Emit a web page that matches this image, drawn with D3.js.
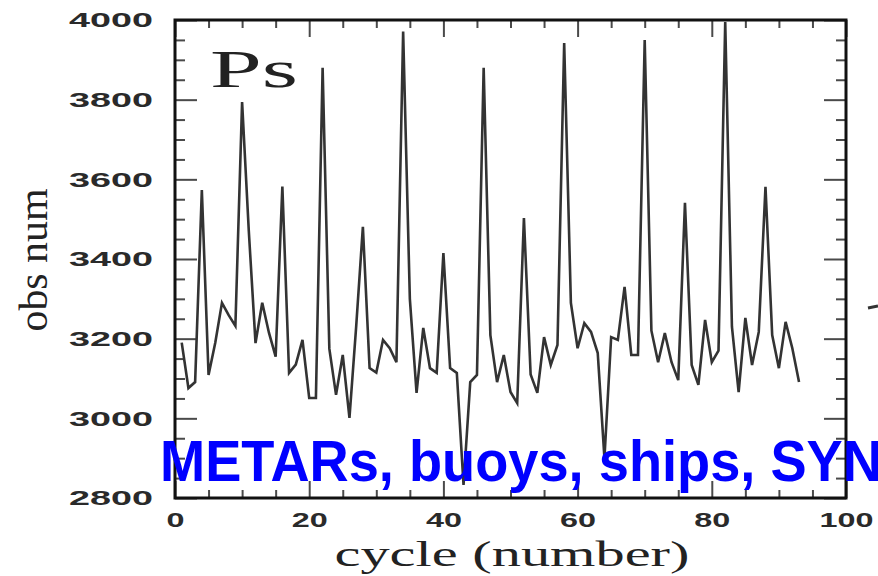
<!DOCTYPE html>
<html>
<head>
<meta charset="utf-8">
<script src="https://cdn.jsdelivr.net/npm/d3@7/dist/d3.min.js"></script>
<style>
  html, body { margin: 0; padding: 0; background: #fff; }
  svg { display: block; }
</style>
</head>
<body>
<svg id="chart" width="878" height="576"></svg>
<script>
// ---- data ----
const cycles = [1,2,3,4,5,6,7,8,9,10,11,12,13,14,15,16,17,18,19,20,
  21,22,23,24,25,26,27,28,29,30,31,32,33,34,35,36,37,38,39,40,
  41,42,43,44,45,46,47,48,49,50,51,52,53,54,55,56,57,58,59,60,
  61,62,63,64,65,66,67,68,69,70,71,72,73,74,75,76,77,78,79,80,
  81,82,83,84,85,86,87,88,89,90,91,92,93];
const obsNum = [3190,3076,3091,3573,3109,3190,3290,3259,3232,3794,
  3470,3189,3290,3215,3155,3582,3114,3135,3197,3051,
  3051,3880,3175,3059,3159,3001,3230,3481,3126,3115,
  3197,3176,3141,3971,3300,3064,3227,3126,3114,3415,
  3126,3114,2833,3091,3109,3880,3209,3091,3159,3066,
  3038,3503,3110,3064,3204,3134,3184,3942,3290,3176,
  3239,3217,3164,2900,3204,3197,3330,3159,3159,3950,
  3220,3141,3214,3141,3096,3541,3134,3084,3247,3141,
  3170,3995,3230,3066,3252,3134,3217,3581,3209,3126,
  3242,3176,3091];
const xTicks = [0,20,40,60,80,100];
const xMinorTicks = [5,10,15,25,30,35,45,50,55,65,70,75,85,90,95];
const yTicks = [2800,3000,3200,3400,3600,3800,4000];
const yMinorTicks = [2850,2900,2950,3050,3100,3150,3250,3300,3350,3450,3500,3550,3650,3700,3750,3850,3900,3950];
const panelLabel = "Ps";
const xTitle = "cycle (number)";
const yTitle = "obs num";
const overlayText = "METARs, buoys, ships, SYNOP";

// ---- drawing ----
const svg = d3.select("#chart");
const L = 175, R = 846, T = 20, B = 498;
const x = d3.scaleLinear().domain([0, 100]).range([L, R]);
const y = d3.scaleLinear().domain([2800, 4000]).range([B, T]);

const tickColor = "#4a4a4a";
function styleAxis(g) {
  g.select(".domain").remove();
  g.selectAll(".tick line").attr("stroke", tickColor).attr("stroke-width", 2);
}

// minor ticks
svg.append("g").attr("transform", `translate(${L},0)`)
  .call(d3.axisLeft(y).tickValues(yMinorTicks).tickSize(-10).tickFormat(""))
  .call(styleAxis);
svg.append("g").attr("transform", `translate(${R},0)`)
  .call(d3.axisRight(y).tickValues(yMinorTicks).tickSize(-10).tickFormat(""))
  .call(styleAxis);
svg.append("g").attr("transform", `translate(0,${B})`)
  .call(d3.axisBottom(x).tickValues(xMinorTicks).tickSize(-8).tickFormat(""))
  .call(styleAxis);
svg.append("g").attr("transform", `translate(0,${T})`)
  .call(d3.axisTop(x).tickValues(xMinorTicks).tickSize(-8).tickFormat(""))
  .call(styleAxis);

// major ticks with labels
const yAxisG = svg.append("g").attr("transform", `translate(${L},0)`)
  .call(d3.axisLeft(y).tickValues(yTicks).tickSize(-22).tickPadding(22).tickFormat(d => d))
  .call(styleAxis);
yAxisG.selectAll("text")
  .attr("font-family", "'Liberation Sans', Arial, sans-serif")
  .attr("font-weight", "bold")
  .attr("font-size", 21)
  .attr("fill", "#2a2a2a")
  .attr("textLength", 84)
  .attr("lengthAdjust", "spacingAndGlyphs");

svg.append("g").attr("transform", `translate(${R},0)`)
  .call(d3.axisRight(y).tickValues(yTicks).tickSize(-22).tickFormat(""))
  .call(styleAxis);

const xAxisG = svg.append("g").attr("transform", `translate(0,${B})`)
  .call(d3.axisBottom(x).tickValues(xTicks).tickSize(-17).tickPadding(14).tickFormat(d => d))
  .call(styleAxis);
xAxisG.selectAll("text")
  .attr("font-family", "'Liberation Sans', Arial, sans-serif")
  .attr("font-weight", "bold")
  .attr("font-size", 21)
  .attr("fill", "#2a2a2a")
  .attr("textLength", d => String(d).length * 18)
  .attr("lengthAdjust", "spacingAndGlyphs");

svg.append("g").attr("transform", `translate(0,${T})`)
  .call(d3.axisTop(x).tickValues(xTicks).tickSize(-17).tickFormat(""))
  .call(styleAxis);

// frame
svg.append("rect")
  .attr("x", L).attr("y", T)
  .attr("width", R - L).attr("height", B - T)
  .attr("fill", "none").attr("stroke", "#111").attr("stroke-width", 3);

// series line
const line = d3.line()
  .x((d, i) => x(cycles[i]))
  .y(d => y(d));
svg.append("path")
  .datum(obsNum)
  .attr("fill", "none")
  .attr("stroke", "#333")
  .attr("stroke-width", 2.6)
  .attr("stroke-linejoin", "miter")
  .attr("d", line);

// panel label
svg.append("text")
  .attr("x", 210).attr("y", 87)
  .attr("font-family", "'Liberation Serif', 'Times New Roman', serif")
  .attr("font-size", 52)
  .attr("fill", "#222")
  .attr("textLength", 88)
  .attr("lengthAdjust", "spacingAndGlyphs")
  .text(panelLabel);

// axis titles
svg.append("text")
  .attr("x", 512).attr("y", 566)
  .attr("text-anchor", "middle")
  .attr("font-family", "'Liberation Serif', 'Times New Roman', serif")
  .attr("font-size", 36)
  .attr("fill", "#222")
  .attr("textLength", 355)
  .attr("lengthAdjust", "spacingAndGlyphs")
  .text(xTitle);

svg.append("text")
  .attr("transform", "translate(47,260) rotate(-90)")
  .attr("text-anchor", "middle")
  .attr("font-family", "'Liberation Serif', 'Times New Roman', serif")
  .attr("font-size", 40)
  .attr("fill", "#222")
  .attr("textLength", 143)
  .attr("lengthAdjust", "spacingAndGlyphs")
  .text(yTitle);

// overlay caption (runs past the right edge, as in the reference)
svg.append("text")
  .attr("transform", "translate(160,481) scale(0.935,1)")
  .attr("x", 0).attr("y", 0)
  .attr("font-family", "'Liberation Sans', Arial, sans-serif")
  .attr("font-weight", "bold")
  .attr("font-size", 58)
  .attr("fill", "#0000ff")
  .text(overlayText);

// small clipped mark at right edge
svg.append("line")
  .attr("x1", 868).attr("y1", 308).attr("x2", 878).attr("y2", 306)
  .attr("stroke", "#333").attr("stroke-width", 3);
</script>
</body>
</html>
